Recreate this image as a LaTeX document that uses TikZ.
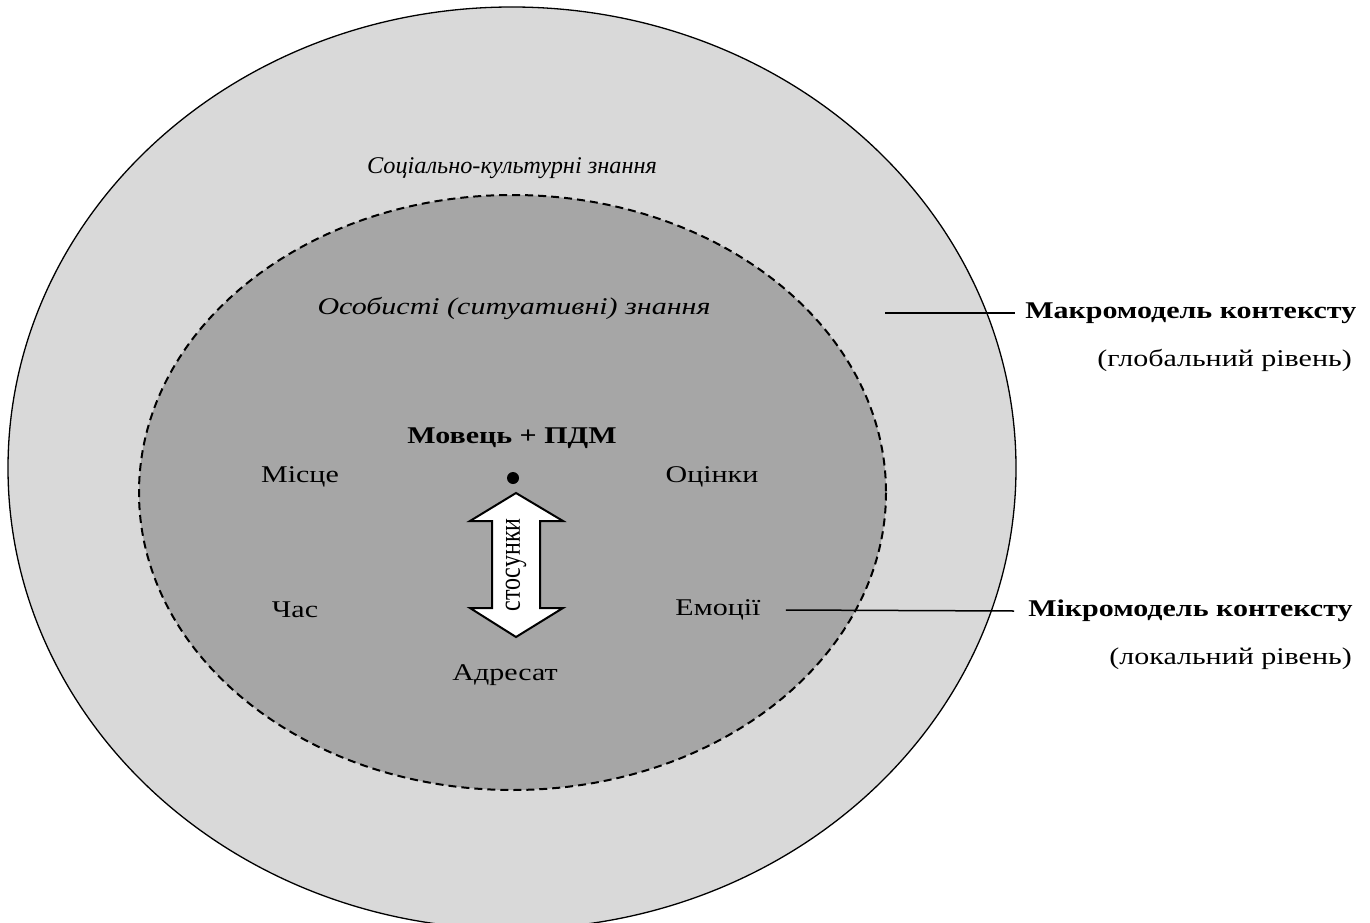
\documentclass[tikz,border=0pt]{standalone}
\usepackage{fontspec}
\setmainfont{Liberation Serif}
\usepackage{tikz}
\usetikzlibrary{positioning}

\begin{document}
\begin{tikzpicture}[x=1pt, y=-1pt,
    txt/.style={font=\fontsize{24}{28}\selectfont, xscale=1.25, inner sep=0pt},
    bold/.style={txt, font=\fontsize{24}{28}\selectfont\bfseries},
    ital/.style={txt, font=\fontsize{24}{28}\selectfont\itshape},
    lead/.style={line width=1.5pt}]
    \useasboundingbox (0,0) rectangle (1370,923);

    % Ellipses
    \draw [fill={rgb,255:red,217;green,217;blue,217}, line width=1.3pt] (512,468) ellipse [x radius=504, y radius=461];
    \draw [fill={rgb,255:red,166;green,166;blue,166}, line width=2pt, dash pattern=on 8pt off 5pt] (512.5,492.5) ellipse [x radius=373.5, y radius=297.5];

    % Nodes
    \node [ital, xscale=0.81] (social) at (512,168) {Соціально-культурні знання};
    \node [ital]    (person)  at (514,308)  {Особисті (ситуативні) знання};
    \node [bold]    (speaker) at (512,438)  {Мовець + ПДМ};
    \node [txt]     (place)   at (300,477)  {Місце};
    \node [txt]     (eval)    at (712,477)  {Оцінки};
    \node [txt]     (time)    at (295,610)  {Час};
    \node [txt]     (emo)     at (718,610)  {Емоції};
    \node [txt]     (addr)    at (505,675)  {Адресат};
    \node [bold, anchor=west] (macro) at (1025,313) {Макромодель контексту};
    \node [txt, anchor=east]  (global) at (1352,360) {(глобальний рівень)};
    \node [bold, anchor=west] (micro) at (1028,611) {Мікромодель контексту};
    \node [txt, anchor=east]  (local) at (1352,659) {(локальний рівень)};
    \coordinate (macroend) at (885,313);
    \fill (513,478) circle [radius=6];

    % Arrow
    \draw [fill=white, line width=2pt, line join=miter]
        (516,493) -- (563,521) -- (540,521) -- (540,608) -- (563,608) -- (516,637)
        -- (470,608) -- (492,608) -- (492,521) -- (470,521) -- cycle;
    \node [txt, rotate=90] (rel) at (516,565) {стосунки};

    % Paths
    \draw [lead] (macroend) -- ([xshift=-10pt]macro.west);
    \draw [lead] ([xshift=25pt]emo.east) -- ([xshift=-14pt]micro.west);
\end{tikzpicture}
\end{document}
